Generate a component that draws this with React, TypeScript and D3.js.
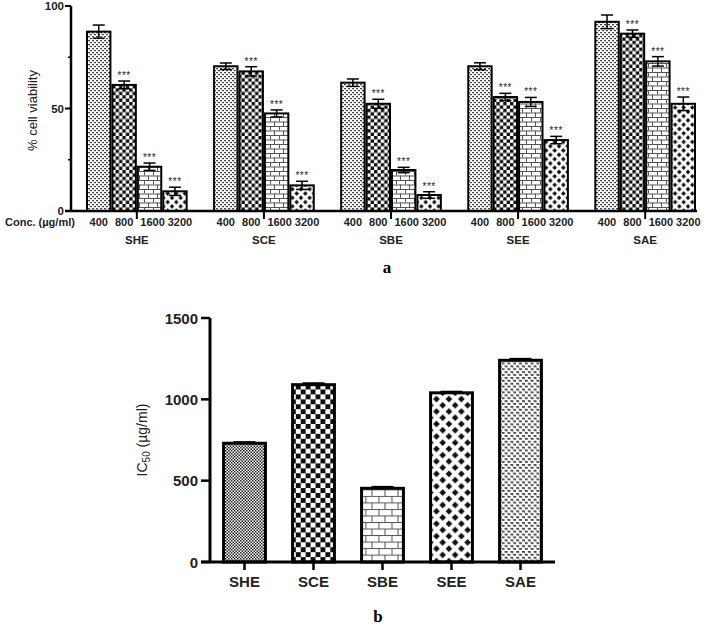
import { useEffect, useRef } from "react";
import * as d3 from "d3";

const extracts = ["SHE", "SCE", "SBE", "SEE", "SAE"];
const concs = ["400", "800", "1600", "3200"];
// % cell viability per extract, one value per concentration
const viability = [
  [87.5, 61.5, 21.6, 9.6],
  [70.6, 68.1, 47.6, 12.5],
  [62.6, 52.3, 20.0, 7.8],
  [70.6, 55.6, 53.2, 34.6],
  [92.3, 86.5, 73.0, 52.3],
];
const viabilityErr = [
  [3.2, 1.9, 1.8, 2.0],
  [1.6, 2.3, 1.7, 2.0],
  [1.8, 2.2, 1.3, 1.6],
  [1.7, 1.8, 2.2, 1.8],
  [3.3, 1.8, 2.3, 3.3],
];
const ic50 = [730, 1090, 453, 1040, 1240];
const ic50Err = [10, 12, 12, 10, 12];
const yTicksA = [0, 50, 100];
const yMinorA = [25, 75];
const yTicksB = [0, 500, 1000, 1500];

const SANS = "'Liberation Sans', Arial, sans-serif";
const SERIF = "'Liberation Serif', 'Times New Roman', serif";

type Sel = d3.Selection<any, unknown, null, undefined>;

function addPattern(defs: Sel, id: string, w: number, h: number, draw: (p: Sel) => void) {
  const p = defs.append("pattern").attr("id", id)
    .attr("patternUnits", "userSpaceOnUse").attr("width", w).attr("height", h);
  p.append("rect").attr("width", w).attr("height", h).attr("fill", "#fff");
  draw(p);
}

// builds the five fill patterns at a given scale, ids prefixed
function makePatterns(defs: Sel, pre: string, s: number) {
  addPattern(defs, `${pre}-weave`, 4 * s, 4 * s, (p) => {
    p.append("rect").attr("x", 0).attr("y", 0).attr("width", 2 * s).attr("height", 1.2 * s).attr("fill", "#444");
    p.append("rect").attr("x", 2 * s).attr("y", 2 * s).attr("width", 2 * s).attr("height", 1.2 * s).attr("fill", "#444");
    p.append("rect").attr("x", 1.5 * s).attr("y", 1 * s).attr("width", 0.6 * s).attr("height", 1 * s).attr("fill", "#777");
  });
  addPattern(defs, `${pre}-fine`, 3, 3, (p) => {
    p.append("rect").attr("width", 1.5).attr("height", 1.5).attr("fill", "#222");
    p.append("rect").attr("x", 1.5).attr("y", 1.5).attr("width", 1.5).attr("height", 1.5).attr("fill", "#222");
  });
  const c = 3.4 * s;
  addPattern(defs, `${pre}-check`, 2 * c, 2 * c, (p) => {
    p.append("rect").attr("width", c).attr("height", c).attr("fill", "#111");
    p.append("rect").attr("x", c).attr("y", c).attr("width", c).attr("height", c).attr("fill", "#111");
  });
  const bw = 9 * s, bh = 4.5 * s;
  addPattern(defs, `${pre}-brick`, bw, 2 * bh, (p) => {
    const g = p.append("g").attr("stroke", "#555").attr("stroke-width", 1);
    g.append("line").attr("x1", 0).attr("x2", bw).attr("y1", 0.5).attr("y2", 0.5);
    g.append("line").attr("x1", 0).attr("x2", bw).attr("y1", bh + 0.5).attr("y2", bh + 0.5);
    g.append("line").attr("x1", 0.5).attr("x2", 0.5).attr("y1", 0).attr("y2", bh);
    g.append("line").attr("x1", bw / 2).attr("x2", bw / 2).attr("y1", bh).attr("y2", 2 * bh);
  });
  const d = 8.6 * s, r = 2.3 * s;
  addPattern(defs, `${pre}-diamond`, d, d, (p) => {
    const centers = [[d / 2, d / 2], [0, 0], [d, 0], [0, d], [d, d]];
    for (const [cx, cy] of centers) {
      p.append("polygon")
        .attr("points", `${cx},${cy - r} ${cx + r},${cy} ${cx},${cy + r} ${cx - r},${cy}`)
        .attr("fill", "#111");
    }
  });
}

export default function App() {
  const svgRef = useRef<SVGSVGElement>(null);

  useEffect(() => {
    const svg = d3.select(svgRef.current);
    svg.selectAll("*").remove();
    const defs = svg.append("defs");
    makePatterns(defs, "a", 1);
    makePatterns(defs, "b", 1.45);

    // ---------- chart a ----------
    const ya = d3.scaleLinear().domain([0, 100]).range([211, 6]);
    const x0 = d3.scaleBand().domain(extracts).range([86, 696]).paddingInner(0.2).paddingOuter(0);
    const x1 = d3.scaleBand().domain(concs).range([0, x0.bandwidth()]);
    const concFill = ["a-weave", "a-check", "a-brick", "a-diamond"];
    const labelShift = [0, 0, 3, 5]; // conc labels sit a little right of their bars
    const ga = svg.append("g");

    extracts.forEach((ex, gi) => {
      concs.forEach((cn, ci) => {
        const v = viability[gi][ci];
        const e = viabilityErr[gi][ci];
        const bx = x0(ex)! + x1(cn)!;
        const bwid = x1.bandwidth();
        ga.append("rect")
          .attr("x", bx + 1).attr("y", ya(v))
          .attr("width", bwid - 2).attr("height", ya(0) - ya(v))
          .attr("fill", `url(#${concFill[ci]})`)
          .attr("stroke", "#000").attr("stroke-width", 2);
        const cx = bx + bwid / 2;
        const eg = ga.append("g").attr("stroke", "#000").attr("stroke-width", 1.5);
        eg.append("line").attr("x1", cx).attr("x2", cx).attr("y1", ya(v + e)).attr("y2", ya(v - e));
        eg.append("line").attr("x1", cx - 6).attr("x2", cx + 6).attr("y1", ya(v + e)).attr("y2", ya(v + e));
        eg.append("line").attr("x1", cx - 6).attr("x2", cx + 6).attr("y1", ya(v - e)).attr("y2", ya(v - e));
        if (ci > 0) {
          ga.append("text")
            .attr("x", cx).attr("y", ya(v + e) - 2)
            .attr("text-anchor", "middle").attr("font-family", SANS)
            .attr("font-size", 10).attr("letter-spacing", "0.5px").attr("fill", "#222")
            .text("***");
        }
        ga.append("text")
          .attr("x", cx + labelShift[ci]).attr("y", 226)
          .attr("text-anchor", "middle").attr("font-family", SANS)
          .attr("font-size", 11).attr("font-weight", 700).attr("fill", "#222")
          .text(cn);
      });
      const gc = x0(ex)! + x0.bandwidth() / 2;
      ga.append("line").attr("x1", gc).attr("x2", gc).attr("y1", 211).attr("y2", 219)
        .attr("stroke", "#000").attr("stroke-width", 2);
      ga.append("text")
        .attr("x", gc).attr("y", 244)
        .attr("text-anchor", "middle").attr("font-family", SANS)
        .attr("font-size", 11.5).attr("font-weight", 700).attr("fill", "#222")
        .text(ex);
    });

    // axes a
    ga.append("line").attr("x1", 71).attr("x2", 71).attr("y1", ya(100)).attr("y2", ya(0))
      .attr("stroke", "#000").attr("stroke-width", 2.5);
    ga.append("line").attr("x1", 65).attr("x2", 697).attr("y1", ya(0)).attr("y2", ya(0))
      .attr("stroke", "#000").attr("stroke-width", 2.5);
    for (const t of yTicksA) {
      ga.append("line").attr("x1", 65).attr("x2", 71).attr("y1", ya(t)).attr("y2", ya(t))
        .attr("stroke", "#000").attr("stroke-width", 2);
      ga.append("text")
        .attr("x", 64).attr("y", ya(t) + 4)
        .attr("text-anchor", "end").attr("font-family", SANS)
        .attr("font-size", 11.5).attr("font-weight", 700).attr("fill", "#222")
        .text(t);
    }
    for (const t of yMinorA) {
      ga.append("line").attr("x1", 68).attr("x2", 71).attr("y1", ya(t)).attr("y2", ya(t))
        .attr("stroke", "#000").attr("stroke-width", 1.5);
    }
    ga.append("text")
      .attr("transform", `translate(37,${(ya(0) + ya(100)) / 2 + 2}) rotate(-90)`)
      .attr("text-anchor", "middle").attr("font-family", SANS)
      .attr("font-size", 13).attr("fill", "#222")
      .text("% cell viability");
    ga.append("text")
      .attr("x", 5).attr("y", 226)
      .attr("font-family", SANS).attr("font-size", 11).attr("font-weight", 700).attr("fill", "#222")
      .text("Conc. (µg/ml)");
    svg.append("text")
      .attr("x", 387).attr("y", 273).attr("text-anchor", "middle")
      .attr("font-family", SERIF).attr("font-size", 17).attr("font-weight", 700)
      .text("a");

    // ---------- chart b ----------
    const yb = d3.scaleLinear().domain([0, 1500]).range([562, 318]);
    const xb = d3.scaleBand().domain(extracts).range([210, 555]).paddingInner(0.35).paddingOuter(0.175);
    const extFill = ["b-fine", "b-check", "b-brick", "b-diamond", "b-weave"];
    const gb = svg.append("g");
    extracts.forEach((ex, i) => {
      const v = ic50[i];
      const e = ic50Err[i];
      const bx = xb(ex)!;
      const w = xb.bandwidth();
      const cx = bx + w / 2;
      gb.append("line").attr("x1", cx).attr("x2", cx).attr("y1", yb(v + e)).attr("y2", yb(v))
        .attr("stroke", "#000").attr("stroke-width", 2);
      gb.append("line").attr("x1", cx - 11).attr("x2", cx + 11).attr("y1", yb(v + e) + 1).attr("y2", yb(v + e) + 1)
        .attr("stroke", "#000").attr("stroke-width", 3);
      gb.append("rect")
        .attr("x", bx + 1.5).attr("y", yb(v))
        .attr("width", w - 3).attr("height", yb(0) - yb(v))
        .attr("fill", `url(#${extFill[i]})`)
        .attr("stroke", "#000").attr("stroke-width", 3);
      gb.append("line").attr("x1", cx).attr("x2", cx).attr("y1", 562).attr("y2", 570)
        .attr("stroke", "#000").attr("stroke-width", 2.5);
      gb.append("text")
        .attr("x", cx).attr("y", 587)
        .attr("text-anchor", "middle").attr("font-family", SANS)
        .attr("font-size", 15).attr("font-weight", 700).attr("fill", "#222")
        .text(ex);
    });
    gb.append("line").attr("x1", 210).attr("x2", 210).attr("y1", yb(1500)).attr("y2", yb(0))
      .attr("stroke", "#000").attr("stroke-width", 3);
    gb.append("line").attr("x1", 201).attr("x2", 555).attr("y1", yb(0)).attr("y2", yb(0))
      .attr("stroke", "#000").attr("stroke-width", 3);
    for (const t of yTicksB) {
      gb.append("line").attr("x1", 201).attr("x2", 210).attr("y1", yb(t)).attr("y2", yb(t))
        .attr("stroke", "#000").attr("stroke-width", 2.5);
      gb.append("text")
        .attr("x", 198).attr("y", yb(t) + 5.5)
        .attr("text-anchor", "end").attr("font-family", SANS)
        .attr("font-size", 15).attr("font-weight", 700).attr("fill", "#222")
        .text(t);
    }
    const lab = gb.append("text")
      .attr("transform", `translate(147,${(yb(0) + yb(1500)) / 2}) rotate(-90)`)
      .attr("text-anchor", "middle").attr("font-family", SANS)
      .attr("font-size", 14).attr("fill", "#222");
    lab.append("tspan").text("IC");
    lab.append("tspan").attr("font-size", 10).attr("dy", 3).text("50");
    lab.append("tspan").attr("dy", -3).text(" (µg/ml)");
    svg.append("text")
      .attr("x", 378).attr("y", 622).attr("text-anchor", "middle")
      .attr("font-family", SERIF).attr("font-size", 17).attr("font-weight", 700)
      .text("b");
  }, []);

  return (
    <svg
      ref={svgRef}
      width={708}
      height={626}
      style={{ position: "absolute", left: 0, top: 0, background: "#fff", display: "block" }}
    />
  );
}
